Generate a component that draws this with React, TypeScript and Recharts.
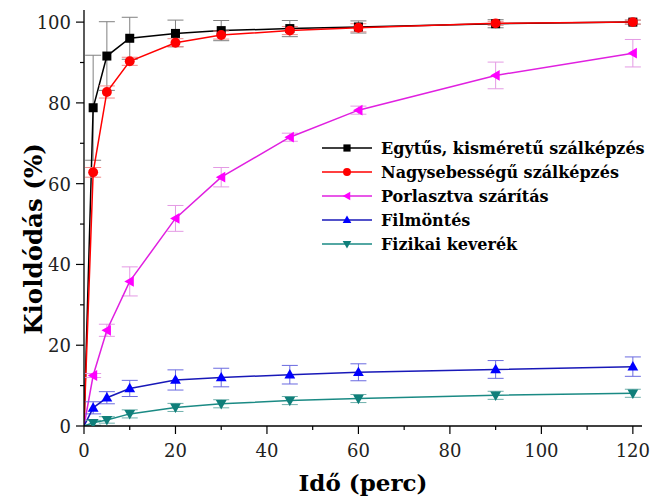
import { LineChart, Line, XAxis, YAxis, ErrorBar, Legend } from 'recharts';

// mintavételi idők (perc)
const times = [0, 2, 5, 10, 20, 30, 45, 60, 90, 120];

// kioldódás (%) és szórások
const egytus = [0, 78.8, 91.6, 96, 97.2, 97.9, 98.4, 98.8, 99.6, 100];
const egytusErr = [0, 13, 8.5, 5.2, 3.3, 2.5, 2, 1.5, 1, 0.5];
const nagysebessegu = [0, 62.8, 82.7, 90.3, 94.9, 96.8, 97.9, 98.6, 99.7, 100];
const nagysebesseguErr = [0, 1.2, 1.5, 1, 1, 1, 1, 1, 0.5, 0.5];
const porlasztva = [0, 12.5, 23.7, 35.8, 51.4, 61.6, 71.5, 78.2, 86.8, 92.3];
const porlasztvaErr = [0, 0.5, 1.5, 3.6, 3.2, 2.4, 1, 1, 3.3, 3.4];
const filmontes = [0, 4.5, 7, 9.3, 11.4, 12, 12.7, 13.3, 14, 14.7];
const filmontesErr = [0, 1.5, 1.5, 2, 2.5, 2.3, 2.3, 2.1, 2.2, 2.4];
const fizikai = [0, 0.8, 1.5, 3, 4.6, 5.5, 6.3, 6.8, 7.6, 8.1];
const fizikaiErr = [0, 0.6, 0.8, 1, 1, 1, 1, 1, 1, 1];

const xTicks = [0, 10, 20, 30, 40, 50, 60, 70, 80, 90, 100, 110, 120];
const yTicks = [0, 10, 20, 30, 40, 50, 60, 70, 80, 90, 100];

const seriesInfo = [
  { key: 'egytus', name: 'Egytűs, kisméretű szálképzés', color: '#000000', line: '#000000', err: '#808080', shape: 'square' },
  { key: 'nagy', name: 'Nagysebességű szálképzés', color: '#ff0000', line: '#ff0000', err: '#f08a8a', shape: 'circle' },
  { key: 'porl', name: 'Porlasztva szárítás', color: '#ff00ff', line: '#e020e0', err: '#e49ae4', shape: 'left' },
  { key: 'film', name: 'Filmöntés', color: '#0000ff', line: '#1818b8', err: '#6a6ae0', shape: 'up' },
  { key: 'fiz', name: 'Fizikai keverék', color: '#0f7f7a', line: '#1a8a84', err: '#6fb0ac', shape: 'down' },
];

const data = times.map((t, i) => ({
  t,
  egytus: egytus[i],
  egytusErr: egytusErr[i],
  nagy: nagysebessegu[i],
  nagyErr: nagysebesseguErr[i],
  porl: porlasztva[i],
  porlErr: porlasztvaErr[i],
  film: filmontes[i],
  filmErr: filmontesErr[i],
  fiz: fizikai[i],
  fizErr: fizikaiErr[i],
}));

const FONT = "'DejaVu Serif', 'Times New Roman', Times, serif";

function Marker({ shape, color, x, y, s }: { shape: string; color: string; x: number; y: number; s: number }) {
  switch (shape) {
    case 'square':
      return <rect x={x - s} y={y - s} width={2 * s} height={2 * s} fill={color} />;
    case 'circle':
      return <circle cx={x} cy={y} r={s * 1.1} fill={color} />;
    case 'left':
      return <polygon points={`${x - s * 1.2},${y} ${x + s * 0.9},${y - s * 1.2} ${x + s * 0.9},${y + s * 1.2}`} fill={color} />;
    case 'up':
      return <polygon points={`${x},${y - s * 1.25} ${x - s * 1.2},${y + s * 0.85} ${x + s * 1.2},${y + s * 0.85}`} fill={color} />;
    default:
      return <polygon points={`${x},${y + s * 1.25} ${x - s * 1.2},${y - s * 0.85} ${x + s * 1.2},${y - s * 0.85}`} fill={color} />;
  }
}

function makeDot(shape: string, color: string) {
  return (props: any) => {
    const { cx, cy, index } = props;
    if (cx == null || cy == null || index === 0) return <g key={`d-${index}`} />;
    return (
      <g key={`d-${index}`}>
        <Marker shape={shape} color={color} x={cx} y={cy} s={4.5} />
      </g>
    );
  };
}

function XTick(props: any) {
  const { x, y, payload } = props;
  const major = payload.value % 20 === 0;
  return (
    <g>
      <line x1={x} y1={y} x2={x} y2={y + (major ? 8 : 4)} stroke="#000" strokeWidth={1.2} />
      {major && (
        <text x={x} y={y + 31} textAnchor="middle" style={{ fontFamily: FONT, fontSize: 18 }} fill="#222">
          {payload.value}
        </text>
      )}
    </g>
  );
}

function YTick(props: any) {
  const { x, y, payload } = props;
  const major = payload.value % 20 === 0;
  return (
    <g>
      <line x1={x} y1={y} x2={x - (major ? 8 : 4)} y2={y} stroke="#000" strokeWidth={1.2} />
      {major && (
        <text x={x - 13} y={y + 7} textAnchor="end" style={{ fontFamily: FONT, fontSize: 18 }} fill="#222">
          {payload.value}
        </text>
      )}
    </g>
  );
}

function LegendBox() {
  return (
    <div style={{ fontFamily: FONT, fontWeight: 'bold', fontSize: 16, color: '#000' }}>
      {seriesInfo.map((s) => (
        <div key={s.key} style={{ display: 'flex', alignItems: 'center', height: 24 }}>
          <svg width={52} height={14} style={{ marginRight: 8 }}>
            <line x1={1} y1={7} x2={51} y2={7} stroke={s.line} strokeWidth={1.5} />
            <Marker shape={s.shape} color={s.color} x={26} y={7} s={3.6} />
          </svg>
          <span>{s.name}</span>
        </div>
      ))}
    </div>
  );
}

export default function App() {
  return (
    <div style={{ position: 'absolute', left: 0, top: 0, width: 653, height: 502, fontFamily: FONT }}>
      <LineChart width={653} height={502} data={data} margin={{ top: 10, right: 11, bottom: 0, left: 8 }}>
        <XAxis
          dataKey="t"
          type="number"
          domain={[0, 122]}
          ticks={xTicks}
          interval={0}
          allowDataOverflow
          height={76}
          tickSize={0}
          tickMargin={0}
          tickLine={false}
          tick={<XTick />}
          axisLine={{ stroke: '#000', strokeWidth: 1.3 }}
          label={{
            content: (p: any) => {
              const vb = p.viewBox;
              return (
                <text x={vb.x + vb.width / 2} y={vb.y + 65} textAnchor="middle" style={{ fontFamily: FONT, fontWeight: 'bold', fontSize: 23 }} fill="#000">
                  Idő (perc)
                </text>
              );
            },
          }}
        />
        <YAxis
          type="number"
          domain={[0, 103]}
          ticks={yTicks}
          interval={0}
          allowDataOverflow
          width={76}
          tickSize={0}
          tickMargin={0}
          tickLine={false}
          tick={<YTick />}
          axisLine={{ stroke: '#000', strokeWidth: 1.3 }}
          label={{
            content: () => {
              const cx = 33;
              const cy = 239;
              return (
                <text x={cx} y={cy} transform={`rotate(-90 ${cx} ${cy})`} textAnchor="middle" dominantBaseline="central" style={{ fontFamily: FONT, fontWeight: 'bold', fontSize: 24.5 }} fill="#000">
                  Kioldódás (%)
                </text>
              );
            },
          }}
        />
        <Legend
          layout="vertical"
          align="center"
          verticalAlign="middle"
          wrapperStyle={{ left: 321, top: 136, width: 330 }}
          content={() => <LegendBox />}
        />
        {seriesInfo.map((s) => (
          <Line
            key={s.key}
            dataKey={s.key}
            name={s.name}
            type="linear"
            stroke={s.line}
            strokeWidth={1.5}
            dot={makeDot(s.shape, s.color)}
            activeDot={false}
            isAnimationActive={false}
          >
            <ErrorBar dataKey={`${s.key}Err`} width={8} stroke={s.err} strokeWidth={1} direction="y" />
          </Line>
        ))}
      </LineChart>
    </div>
  );
}
